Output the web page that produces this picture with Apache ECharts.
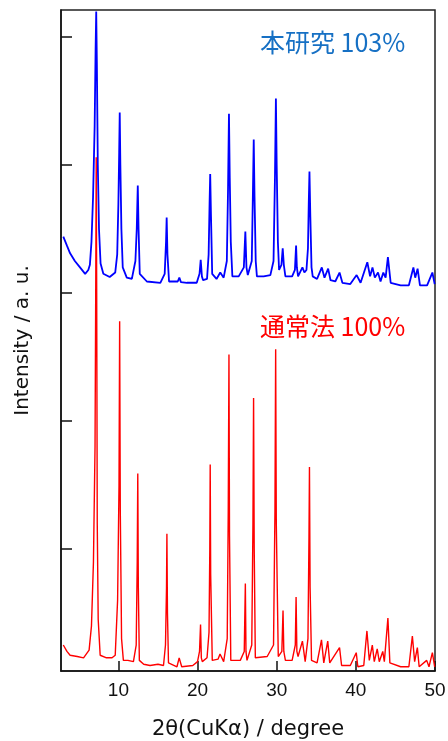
<!DOCTYPE html>
<html>
<head>
<meta charset="utf-8">
<script src="https://cdn.jsdelivr.net/npm/echarts@6/dist/echarts.min.js"></script>
<style>
  html, body { margin: 0; padding: 0; background: #fff; }
  #chart { width: 448px; height: 741px; }
</style>
</head>
<body>
<div id="chart"></div>
<script>
// 2θ / intensity (blue trace already offset upward)
const blueTheta = [3.04, 3.5, 3.9, 4.5, 5.15, 5.8, 6.2, 6.4, 6.6, 6.8, 7.0, 7.12, 7.2, 7.28, 7.4, 7.55, 7.75, 8.1, 8.9, 9.6,
  9.85, 10.0, 10.1, 10.17, 10.25, 10.38, 10.55, 11.06, 11.7, 12.15, 12.32, 12.45, 12.55, 12.7, 13.6, 15.3,
  15.85, 16.02, 16.1, 16.2, 16.4, 17.5, 17.7, 17.9, 18.66, 19.9, 20.25, 20.4, 20.55, 20.7,
  21.2, 21.4, 21.52, 21.6, 21.7, 21.85, 22.4, 22.87, 23.3, 23.7, 23.85, 23.97, 24.07, 24.2, 24.4,
  25.2, 25.85, 26.04, 26.18, 26.35, 26.85, 27.0, 27.1, 27.2, 27.35, 27.5, 28.35, 29.2,
  29.6, 29.78, 29.9, 30.0, 30.15, 30.3, 30.6, 30.76, 30.9, 31.1, 31.95, 32.3, 32.45, 32.55, 32.7,
  33.25, 33.5, 33.76, 33.95, 34.05, 34.14, 34.25, 34.4, 34.55, 35.1, 35.7, 36.04, 36.5, 36.8, 37.4, 37.94, 38.3, 39.3, 40.1, 40.6,
  41.45, 41.8, 42.1, 42.4, 42.8, 43.12, 43.47, 43.76, 44.05, 44.4, 45.66, 46.7, 47.27, 47.5, 47.8, 48.1, 49.0, 49.67, 49.96];
const blueCounts = [3440, 3370, 3310, 3250, 3200, 3150, 3180, 3220, 3400, 3750, 4300, 4900, 5200, 4800, 4000, 3500, 3230, 3150, 3125, 3160,
  3300, 3700, 4100, 4410, 4000, 3500, 3200, 3120, 3110, 3250, 3500, 3840, 3500, 3150, 3090, 3080,
  3150, 3400, 3590, 3300, 3090, 3090, 3120, 3085, 3080, 3080, 3150, 3260, 3130, 3100,
  3110, 3300, 3700, 3930, 3600, 3150, 3110, 3160, 3120, 3250, 3800, 4400, 3900, 3400, 3130,
  3130, 3200, 3480, 3200, 3140, 3250, 3800, 4200, 3750, 3250, 3130, 3130, 3140,
  3250, 3900, 4520, 4000, 3400, 3180, 3220, 3350, 3220, 3130, 3130, 3180, 3370, 3200, 3130,
  3200, 3160, 3180, 3350, 3700, 3950, 3600, 3200, 3130, 3110, 3200, 3120, 3190, 3100, 3090, 3160, 3080, 3070, 3140, 3080,
  3240, 3130, 3200, 3120, 3160, 3090, 3160, 3120, 3280, 3080, 3060, 3060, 3200, 3120, 3190, 3060, 3060, 3160, 3070];

const redTheta = [3.04, 3.5, 3.9, 4.8, 5.6, 6.3, 6.6, 6.85, 7.05, 7.15, 7.2, 7.26, 7.33, 7.45, 7.7, 8.5, 9.2, 9.6,
  9.9, 10.08, 10.16, 10.24, 10.4, 10.63, 11.2, 11.9, 12.25, 12.38, 12.45, 12.52, 12.65, 13.2, 14.0, 15.0, 15.7,
  15.95, 16.08, 16.13, 16.2, 16.33, 17.4, 17.68, 18.0, 19.4, 20.0, 20.25, 20.38, 20.48, 20.6,
  21.2, 21.45, 21.55, 21.6, 21.66, 21.86, 22.6, 22.84, 23.3, 23.75, 23.88, 23.97, 24.04, 24.2, 25.4,
  25.9, 26.04, 26.12, 26.25, 26.85, 27.0, 27.08, 27.16, 27.3, 28.8, 29.6, 29.78, 29.87, 29.95, 30.2,
  30.65, 30.8, 30.9, 31.1, 31.95, 32.35, 32.45, 32.55, 32.7, 33.25, 33.6, 33.95, 34.08, 34.14, 34.22, 34.4,
  35.1, 35.66, 35.95, 36.45, 36.7, 37.94, 38.2, 39.3, 40.05, 40.25, 41.0, 41.4, 41.7, 42.08, 42.33, 42.7, 42.96,
  43.4, 43.6, 44.05, 44.3, 45.66, 46.7, 47.14, 47.43, 47.77, 48.0, 48.95, 49.24, 49.67, 49.96];
const redCounts = [250, 200, 170, 160, 150, 210, 400, 900, 1800, 3200, 4060, 3000, 1200, 450, 170, 150, 150, 170,
  600, 1500, 2780, 1300, 300, 130, 130, 120, 250, 900, 1590, 700, 130, 100, 90, 100, 90,
  250, 700, 1120, 500, 110, 80, 150, 80, 90, 120, 200, 410, 150, 120,
  150, 350, 1000, 1660, 800, 130, 140, 180, 120, 300, 1300, 2520, 1100, 130, 130,
  200, 730, 200, 130, 250, 1200, 2180, 1000, 150, 160, 250, 1300, 2560, 1200, 160,
  200, 520, 200, 130, 130, 250, 625, 200, 160, 280, 120, 300, 1100, 1640, 700, 130,
  110, 290, 110, 280, 110, 230, 90, 90, 190, 80, 90, 360, 130, 250, 120, 220, 120,
  200, 120, 460, 110, 80, 80, 320, 120, 230, 80, 130, 80, 190, 80];

const xLabels = [10, 20, 30, 40, 50];
const yTicks = [1000, 2000, 3000, 4000, 5000];

const pairs = (xs, ys) => xs.map((x, i) => [x, ys[i]]);

const chart = echarts.init(document.getElementById('chart'));
const font = '"Liberation Sans", Arial, sans-serif';
const nameFont = '"DejaVu Sans", sans-serif';
const cjkFont = '"Noto Sans CJK JP", "Noto Sans", sans-serif';
const option = {
  animation: false,
  grid: {
    left: 61, right: 13, top: 10, bottom: 70,
    outerBoundsMode: 'none',
    show: true, borderColor: '#222', borderWidth: 1.5
  },
  xAxis: {
    type: 'value',
    min: 2.75,
    max: 50,
    name: '2θ(CuKα) / degree',
    nameLocation: 'middle',
    nameGap: 48,
    nameTextStyle: { fontSize: 21, color: '#111', fontFamily: nameFont },
    axisLine: { show: true, lineStyle: { color: '#111', width: 1.5 } },
    axisTick: { show: true, inside: true, length: 10, customValues: xLabels, lineStyle: { color: '#111', width: 1.5 } },
    axisLabel: { customValues: xLabels, margin: 10, fontSize: 19, color: '#111', fontFamily: font },
    splitLine: { show: false }
  },
  yAxis: {
    type: 'value',
    min: 47,
    max: 5211,
    name: 'Intensity / a. u.',
    nameLocation: 'middle',
    nameGap: 28,
    nameTextStyle: { fontSize: 20, color: '#111', fontFamily: nameFont },
    axisLine: { show: true, lineStyle: { color: '#111', width: 1.5 } },
    axisTick: { show: true, inside: true, length: 11, customValues: yTicks, lineStyle: { color: '#111', width: 1.5 } },
    axisLabel: { show: false },
    splitLine: { show: false }
  },
  series: [
    {
      name: '本研究',
      type: 'line',
      data: pairs(blueTheta, blueCounts),
      showSymbol: false,
      lineStyle: { color: '#0000ff', width: 1.8 },
      z: 2
    },
    {
      name: '通常法',
      type: 'line',
      data: pairs(redTheta, redCounts),
      showSymbol: false,
      lineStyle: { color: '#ff0000', width: 1.4 },
      z: 3
    }
  ],
  graphic: [
    {
      type: 'text', left: 260, top: 30,
      style: { text: '本研究 103%', fill: '#1670c4', fontSize: 25, fontFamily: cjkFont }
    },
    {
      type: 'text', left: 260, top: 314,
      style: { text: '通常法 100%', fill: '#ff0000', fontSize: 25, fontFamily: cjkFont }
    }
  ]
};
option && chart.setOption(option);
</script>
</body>
</html>
